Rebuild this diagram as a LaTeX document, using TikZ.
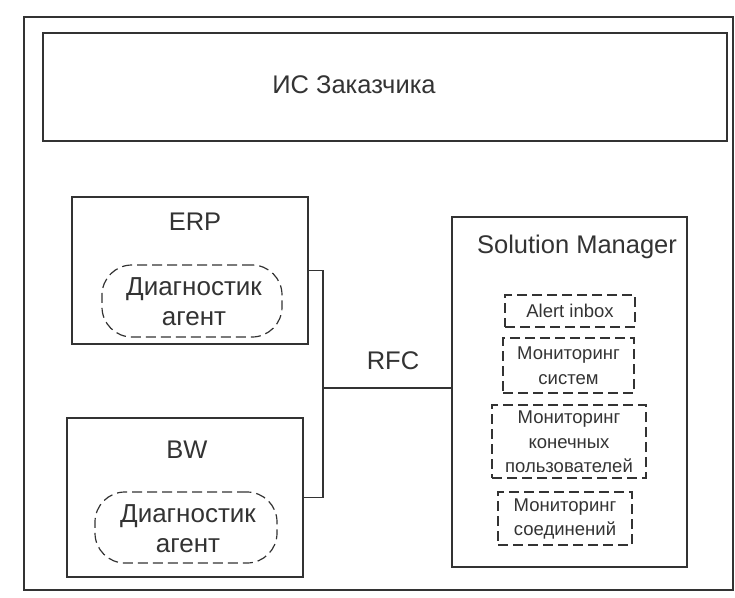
\documentclass[tikz,border=0pt]{standalone}
\usepackage{fontspec}
\setmainfont{Liberation Sans}
\begin{document}
\begin{tikzpicture}[x=1pt,y=-1pt,
  line/.style={draw=black!80, line width=1.1pt},
  box/.style={line, rectangle, inner sep=0pt},
  dbox/.style={draw=black!80, line width=1.2pt, dash pattern=on 10pt off 5pt, rectangle, inner sep=0pt},
  agent/.style={draw=black!80, line width=1.2pt, dash pattern=on 10pt off 5pt, rectangle, rounded corners=30pt, inner sep=0pt},
  big/.style={text=black!80, font=\fontsize{25.5}{30}\selectfont},
  mid/.style={text=black!80, font=\fontsize{26}{30}\selectfont, align=center},
  small/.style={text=black!80, font=\fontsize{18.5}{24.5}\selectfont, align=center}
]
\useasboundingbox (0,0) rectangle (735,597);
% outer frame
\node[box, minimum width=709pt, minimum height=573pt] (outer) at (378.5,303.5) {};
% customer IS
\node[box, minimum width=684pt, minimum height=108pt] (is) at (385,87) {};
\node[big] (istxt) at (354,85) {ИС Заказчика};
% ERP
\node[box, minimum width=236pt, minimum height=147pt] (erp) at (190,270.5) {};
\node[big] (erptxt) at (195,222) {ERP};
\node[agent, minimum width=180pt, minimum height=72pt] (erpag) at (192,301) {};
\node[mid] (erpagtxt) at (194,302) {Диагностик\\агент};
% BW
\node[box, minimum width=236pt, minimum height=159pt] (bw) at (185,497.5) {};
\node[big] (bwtxt) at (187,450) {BW};
\node[agent, minimum width=182pt, minimum height=71pt] (bwag) at (186,527.5) {};
\node[mid] (bwagtxt) at (188,529) {Диагностик\\агент};
% Solution Manager
\node[box, minimum width=235pt, minimum height=350pt] (sm) at (569.5,392) {};
\node[big] (smtxt) at (577,247) {Solution Manager};
\node[dbox, minimum width=130pt, minimum height=32pt] (alert) at (570,311) {};
\node[small] (alerttxt) at (570,311) {Alert inbox};
\node[dbox, minimum width=131pt, minimum height=55pt] (sys) at (568.5,365.5) {};
\node[small] (systxt) at (568.5,365.5) {Мониторинг\\систем};
\node[dbox, minimum width=154pt, minimum height=73pt] (usr) at (569,441.5) {};
\node[small] (usrtxt) at (569,442) {Мониторинг\\конечных\\пользователей};
\node[dbox, minimum width=134pt, minimum height=53pt] (con) at (565,518.5) {};
\node[small] (contxt) at (565,519) {Мониторинг\\соединений};
% RFC connectors
\coordinate (j) at (323,388);
\draw[line] (erp.east) -| (j) |- (bw.east);
\draw[line] (j) -- (j -| sm.west);
\node[big] (rfc) at (393,361) {RFC};
\end{tikzpicture}
\end{document}
